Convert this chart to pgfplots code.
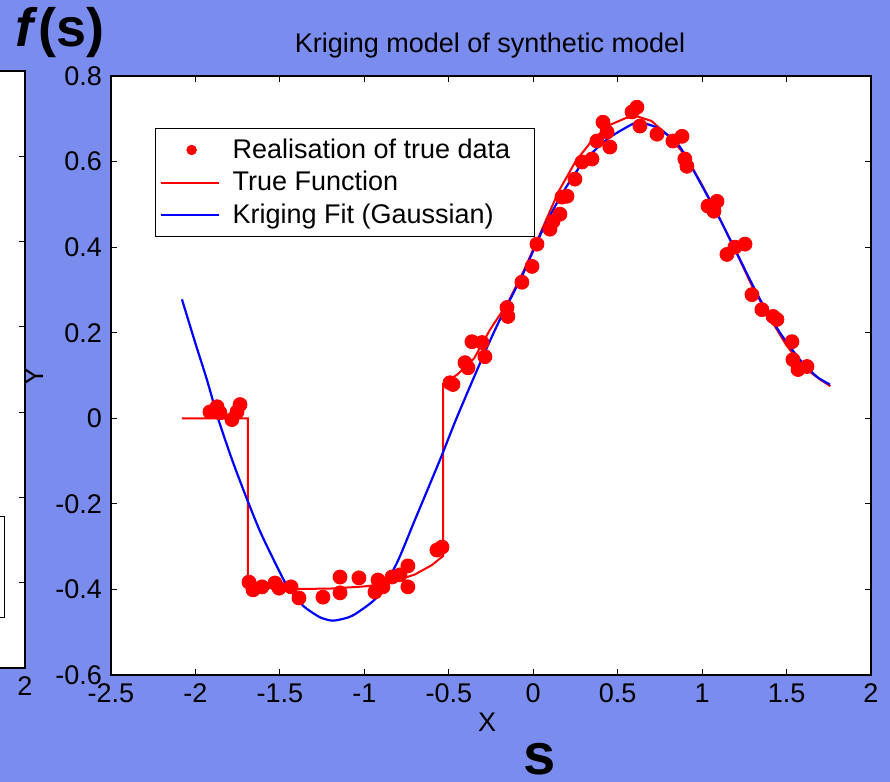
\documentclass[border=0pt]{standalone}
\usepackage{fontspec}
\setmainfont{Liberation Sans}
\usepackage{pgfplots}
\pgfplotsset{compat=1.18}
\definecolor{bgblue}{RGB}{122,141,238}
\newcommand\fs{\fontsize{13.5pt}{16pt}\selectfont}
\pgfplotstableread{
x y
-1.914 0.015
-1.872 0.027
-1.855 0.013
-1.784 -0.003
-1.754 0.015
-1.736 0.032
-1.683 -0.383
-1.659 -0.401
-1.606 -0.394
-1.529 -0.385
-1.505 -0.397
-1.434 -0.394
-1.387 -0.420
-1.245 -0.418
-1.144 -0.371
-1.144 -0.408
-1.032 -0.373
-0.919 -0.378
-0.937 -0.406
-0.890 -0.394
-0.836 -0.371
-0.789 -0.366
-0.742 -0.345
-0.742 -0.394
-0.570 -0.308
-0.540 -0.301
-0.493 0.083
-0.475 0.079
-0.404 0.130
-0.386 0.118
-0.363 0.179
-0.303 0.177
-0.286 0.144
-0.155 0.259
-0.150 0.238
-0.067 0.318
-0.007 0.355
0.022 0.407
0.099 0.442
0.117 0.460
0.158 0.477
0.170 0.517
0.200 0.519
0.247 0.559
0.289 0.599
0.348 0.606
0.377 0.648
0.413 0.692
0.437 0.669
0.454 0.634
0.585 0.716
0.614 0.727
0.632 0.683
0.733 0.664
0.827 0.648
0.881 0.659
0.898 0.606
0.910 0.589
1.035 0.496
1.088 0.507
1.070 0.484
1.147 0.383
1.194 0.400
1.254 0.407
1.295 0.289
1.354 0.254
1.420 0.238
1.443 0.231
1.532 0.179
1.538 0.137
1.568 0.114
1.621 0.121
}\datapts
\pgfplotstableread{
x y
-2.08 0
-1.69 0
-1.69 -0.385
-1.6 -0.396
-1.4 -0.399
-1.2 -0.398
-1.0 -0.393
-0.9 -0.388
-0.8 -0.378
-0.7 -0.365
-0.6 -0.343
-0.534 -0.322
-0.534 0.080
-0.45 0.102
-0.35 0.14
-0.256 0.207
-0.15 0.27
-0.05 0.35
0.05 0.44
0.15 0.53
0.25 0.60
0.35 0.65
0.45 0.685
0.55 0.702
0.62 0.705
0.70 0.695
0.80 0.66
0.90 0.615
1.00 0.545
1.10 0.47
1.20 0.39
1.30 0.305
1.40 0.235
1.50 0.17
1.60 0.12
1.70 0.09
1.76 0.075
}\truefn
\pgfplotstableread{
x y
-2.08 0.278
-2.0 0.175
-1.932 0.090
-1.867 0.001
-1.80 -0.078
-1.754 -0.128
-1.69 -0.194
-1.62 -0.262
-1.559 -0.313
-1.46 -0.390
-1.363 -0.438
-1.263 -0.465
-1.186 -0.473
-1.1 -0.466
-1.044 -0.455
-0.925 -0.418
-0.807 -0.338
-0.70 -0.237
-0.552 -0.097
-0.45 0.004
-0.298 0.144
-0.197 0.231
-0.067 0.332
0.058 0.442
0.176 0.528
0.295 0.598
0.437 0.652
0.59 0.688
0.65 0.690
0.75 0.676
0.869 0.634
0.987 0.552
1.106 0.465
1.224 0.371
1.343 0.278
1.461 0.200
1.579 0.137
1.68 0.097
1.757 0.079
}\krig
\begin{document}
\begin{tikzpicture}
\fill[bgblue] (0,0) rectangle (445pt,391pt);
\useasboundingbox (0,0) rectangle (445pt,391pt);
\clip (0,0) rectangle (445pt,391pt);
\pgfplotsset{
  every axis/.append style={
    scale only axis,
    xmin=-2.5, xmax=2, ymin=-0.6, ymax=0.8,
    ytick={-0.6,-0.4,-0.2,0,0.2,0.4,0.6,0.8},
    tick align=inside, major tick length=3pt,
    tick pos=both,
    axis line style={black, line width=0.6pt},
    tick style={black, line width=0.5pt},
    axis background/.style={fill=white},
    tick label style={font=\fs},
    /pgf/number format/assume math mode=true,
    xticklabel style={yshift=-1pt},
    yticklabel style={xshift=-1pt},
  }
}
% partial neighbouring axis at the left edge
\begin{axis}[at={(12.5pt,57pt)}, anchor=south east, width=300pt, height=298.5pt,
  xtick={2}, xticklabels={2}, yticklabels={}]
\end{axis}
\draw[black, line width=0.5pt] (-10pt,82pt) rectangle (2pt,132.5pt);
% main axis
\begin{axis}[at={(55.5pt,53.5pt)}, anchor=south west, width=380pt, height=299.5pt,
  xtick={-2.5,-2,-1.5,-1,-0.5,0,0.5,1,1.5,2},
  xticklabels={-2.5,-2,-1.5,-1,-0.5,0,0.5,1,1.5,2},
  yticklabels={-0.6,-0.4,-0.2,0,0.2,0.4,0.6,0.8},
  title={Kriging model of synthetic model},
  title style={font=\fs, at={(axis description cs:0.4987,1.04)}, anchor=base, yshift=-6pt},
  xlabel={X}, ylabel={Y},
  xlabel style={font=\fs, at={(axis description cs:0.495,-0.0935)}, anchor=base},
  ylabel style={font=\fs, at={(axis description cs:-0.1013,0.499)}, anchor=center},
  legend style={font=\fs, at={(0.0579,0.913)}, anchor=north west, draw=black,
    line width=0.6pt, inner xsep=2pt, inner ysep=3pt, row sep=1pt,
    nodes={inner sep=2pt}},
  legend cell align=left,
]
\addplot[only marks, mark=*, mark size=3.5pt, color=red,
  legend image code/.code={\fill[red] (15.5pt,0pt) circle (2.3pt); \path[draw=none,fill=none] (0pt,0pt) -- (34pt,0pt);}]
  table[x=x,y=y]{\datapts};
\addlegendentry{Realisation of true data\hspace*{8pt}}
\addplot[red, line width=1pt,
  legend image code/.code={\draw[red, line width=1pt] (0pt,0pt) -- (29pt,0pt); \path[draw=none,fill=none] (0pt,0pt) -- (34pt,0pt);}]
  table[x=x,y=y]{\truefn};
\addlegendentry{True Function}
\addplot[blue, line width=1.1pt, smooth, tension=0.4,
  legend image code/.code={\draw[blue, line width=1pt] (0pt,0pt) -- (29pt,0pt); \path[draw=none,fill=none] (0pt,0pt) -- (34pt,0pt);}]
  table[x=x,y=y]{\krig};
\addlegendentry{Kriging Fit (Gaussian)}
\end{axis}
\node[font=\fontsize{27pt}{30pt}\selectfont\bfseries, anchor=center] at (30pt,374.5pt) {\textit{f}(s)};
\node[font=\fontsize{29pt}{32pt}\selectfont\bfseries, anchor=center, inner sep=0pt] at (270pt,11.5pt) {s};
\end{tikzpicture}
\end{document}
